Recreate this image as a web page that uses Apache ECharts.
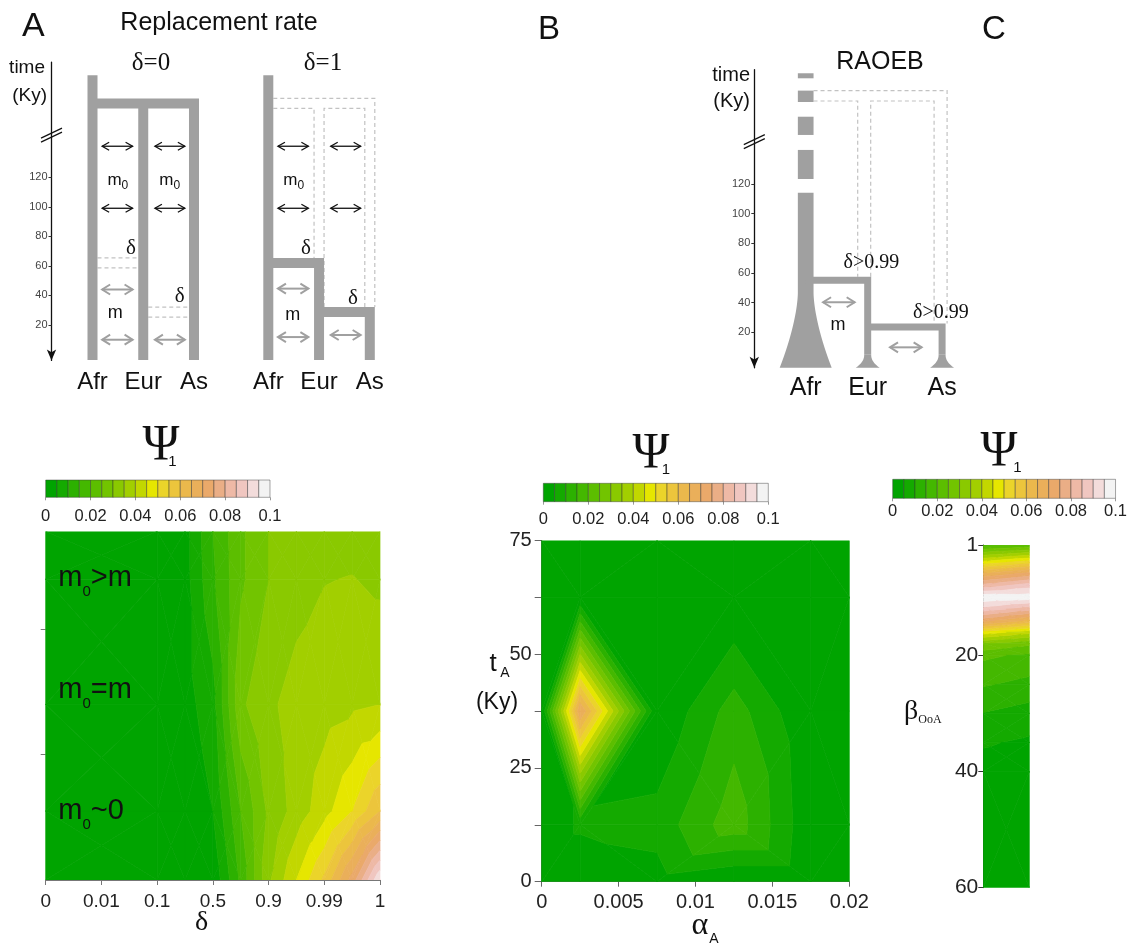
<!DOCTYPE html>
<html>
<head>
<meta charset="utf-8">
<title>Psi1 figure</title>
<script src="https://cdn.jsdelivr.net/npm/echarts@6.0.0/dist/echarts.min.js"></script>
<style>
html,body{margin:0;padding:0;background:#ffffff;}
#chart{width:1130px;height:944px;}
</style>
</head>
<body>
<div id="chart"></div>
<script>
// ================= DATA =================
// Psi1 colour scale (contour levels and colours)
const psiBreaks = [0, 0.005, 0.01, 0.015, 0.02, 0.025, 0.03, 0.035, 0.04, 0.045, 0.05,
                   0.055, 0.06, 0.065, 0.07, 0.075, 0.08, 0.085, 0.09, 0.095, 0.1];
const levelColors = ['#00a400', '#14aa00', '#2cb100', '#44b800', '#5cbe00', '#72c400', '#8ac900',
                     '#a2cf00', '#c2d700', '#e6e600', '#ebd42a', '#ecc53c', '#ebb84c', '#eaaf5a',
                     '#eaa96a', '#eaae86', '#eeb9a6', '#f0c6c0', '#f3dcdb', '#f3f3f3'];

// Schematic trees (time in Ky)
const popNames = ['Afr', 'Eur', 'As'];
const popPosA = [0, 1, 2];
const popPosC = [0, 1, 2.2];
const timeTicks = [20, 40, 60, 80, 100, 120];
const tAfrTopA = 189;
const tAncientA = 170;
const tEurSplitA = 62;
const tAsSplitA = 28.7;
const tBreak = 148.5;
const m0TimesA = [141, 99];
const mTimesA = [44, 10];
// RAOEB
const afrDashC = [[194.6, 191.2], [182.9, 175.2], [165.3, 153], [142.9, 123.3]];
const tAfrSolidC = 114;
const tEurSplitC = 55;
const tAsSplitC = 23.5;
const tGhostC = [182.9, 175.9];
const mTimesC = [40.2, 9.8];

// Panel A contour: delta index (x) x migration scenario (y)
const deltaLabels = ['0', '0.01', '0.1', '0.5', '0.9', '0.99', '1'];
const deltaNodes = [0, 2, 2.5, 3, 3.5, 4, 4.5, 5, 5.5, 6];
const migNodes = [0, 0.55, 1.4, 2.4, 2.78];
const psiA = [
  [0, 0, 0,     0.001, 0.016, 0.034, 0.045, 0.056,  0.072,  0.095],
  [0, 0, 0.001, 0.005, 0.020, 0.031, 0.037, 0.043,  0.050,  0.060],
  [0, 0, 0.003, 0.008, 0.029, 0.034, 0.037, 0.038,  0.039,  0.040],
  [0, 0, 0.003, 0.014, 0.024, 0.030, 0.033, 0.0348, 0.0352, 0.034],
  [0, 0, 0.003, 0.015, 0.024, 0.030, 0.032, 0.033,  0.033,  0.032]
];

// Panel B contour: alpha_A (x) x t_A (y)
const alphaNodes = [0, 0.0025, 0.0075, 0.0125, 0.0175, 0.02];
const tANodes = [0, 12.5, 37.5, 62.5, 75];
const psiB = [
  [0, 0,     0.003,  0,      0,     0],
  [0, 0.006, 0.0069, 0.018,  0.001, 0],
  [0, 0.07,  0,      0.0124, 0,     0],
  [0, 0,     0,      0,      0,     0],
  [0, 0,     0,      0,      0,     0]
];

// Panel C contour: beta_OoA (y), two edge columns
const betaNodes = [1, 4, 6, 8, 10, 12, 14, 16, 18, 20, 25, 30, 35, 40, 60];
const stripNodes = [0, 1];
const psiC = [
  [0.018, 0.021], [0.047, 0.053], [0.066, 0.072], [0.082, 0.088], [0.099, 0.098],
  [0.088, 0.082], [0.072, 0.064], [0.048, 0.042], [0.030, 0.026], [0.021, 0.019],
  [0.0155, 0.0135], [0.0098, 0.0078], [0.0055, 0.0042], [0.003, 0.0025], [0.002, 0.002]
];

// ================= HELPERS =================
const SANS = '"Liberation Sans", Arial, sans-serif';
const SERIF = '"Liberation Serif", "Times New Roman", serif';
const mctx = document.createElement('canvas').getContext('2d');
function textW(s, size, fam) { mctx.font = size + 'px ' + fam; return mctx.measureText(s).width; }
function T(x, y, s, size, fam, align, fill) {
  align = align || 'left';
  return { type: 'text', x: x, y: y, silent: true, z: 50,
    style: { text: s, fontSize: size, fontFamily: fam, fill: fill || '#111',
      align: align, textAlign: align, verticalAlign: 'middle', textVerticalAlign: 'middle' } };
}
function seq(x, y, parts, align) {
  const w = parts.map(p => textW(p[0], p[1], p[2]));
  const total = w.reduce((a, b) => a + b, 0);
  let cx = align === 'center' ? x - total / 2 : (align === 'right' ? x - total : x);
  return parts.map((p, k) => { const e = T(cx, y + (p[3] || 0), p[0], p[1], p[2]); cx += w[k]; return e; });
}
function dblArrow(xa, xb, y, color, lw, hl, hw) {
  return [
    { type: 'line', shape: { x1: xa, y1: y, x2: xb, y2: y }, style: { stroke: color, lineWidth: lw } },
    { type: 'polyline', shape: { points: [[xa + hl, y - hw], [xa, y], [xa + hl, y + hw]] }, style: { stroke: color, lineWidth: lw, fill: null } },
    { type: 'polyline', shape: { points: [[xb - hl, y - hw], [xb, y], [xb - hl, y + hw]] }, style: { stroke: color, lineWidth: lw, fill: null } }
  ];
}
const GRAY = '#a0a0a0';
const DASH = '#c2c2c2';
function thick(pts, w) { return { type: 'polyline', shape: { points: pts }, style: { stroke: GRAY, lineWidth: w, fill: null, lineJoin: 'miter', lineCap: 'butt' } }; }
function dash(pts) { return { type: 'polyline', shape: { points: pts }, style: { stroke: DASH, lineWidth: 1.2, fill: null, lineDash: [4, 3] } }; }
function breakMark(ax, y) {
  return [-2, 2].map(o => ({ type: 'line', shape: { x1: ax - 10.5, y1: y + o + 5, x2: ax + 10.5, y2: y + o - 5 }, style: { stroke: '#111', lineWidth: 1.2 } }));
}

const xMinA = -0.808, xMaxA = 2.345;
const xMinC = -0.829, xMaxC = 2.655;

function treeA(delta) {
  return function (params, api) {
    const c = (x, t) => api.coord([x, t]);
    const X = popPosA.map(p => c(p, 0)[0]);
    const yb = c(0, 0)[1] + 5.5;
    const yTop = c(0, tAfrTopA)[1], yAnc = c(0, tAncientA)[1];
    const yEur = c(0, tEurSplitA)[1], yAs = c(0, tAsSplitA)[1];
    const h = 5;
    const kids = [];
    if (delta === 0) {
      kids.push(dash([[X[0] + h, yEur - h], [X[1] - h, yEur - h]]), dash([[X[0] + h, yEur + h], [X[1] - h, yEur + h]]));
      kids.push(dash([[X[1] + h, yAs - h], [X[2] - h, yAs - h]]), dash([[X[1] + h, yAs + h], [X[2] - h, yAs + h]]));
      kids.push(thick([[X[0], yTop], [X[0], yb]], 10));
      kids.push(thick([[X[0], yAnc], [X[2], yAnc], [X[2], yb]], 10));
      kids.push(thick([[X[1], yAnc], [X[1], yb]], 10));
    } else {
      kids.push(dash([[X[0] + h, yAnc - h], [X[2] + h, yAnc - h], [X[2] + h, yAs - h]]));
      kids.push(dash([[X[0] + h, yAnc + h], [X[1] - h, yAnc + h], [X[1] - h, yEur - h]]));
      kids.push(dash([[X[1] + h, yAs - h], [X[1] + h, yAnc + h], [X[2] - h, yAnc + h], [X[2] - h, yAs - h]]));
      kids.push(thick([[X[0], yTop], [X[0], yb]], 10));
      kids.push(thick([[X[0], yEur], [X[1], yEur], [X[1], yb]], 10));
      kids.push(thick([[X[1], yAs], [X[2], yAs], [X[2], yb]], 10));
    }
    m0TimesA.forEach(t => {
      const y = c(0, t)[1];
      kids.push(...dblArrow(c(0.19, t)[0], c(0.79, t)[0], y, '#111', 1.3, 7, 4));
      kids.push(...dblArrow(c(1.23, t)[0], c(1.82, t)[0], y, '#111', 1.3, 7, 4));
    });
    kids.push(...dblArrow(c(0.19, mTimesA[0])[0], c(0.79, mTimesA[0])[0], c(0, mTimesA[0] + (delta ? 0.6 : 0))[1], GRAY, 2, 8, 5));
    kids.push(...dblArrow(c(0.19, mTimesA[1])[0], c(0.79, mTimesA[1])[0], c(0, mTimesA[1] + (delta ? 1.8 : 0))[1], GRAY, 2, 8, 5));
    kids.push(...dblArrow(c(1.23, mTimesA[1])[0], c(1.82, mTimesA[1])[0], c(0, mTimesA[1] + (delta ? 3.2 : 0))[1], GRAY, 2, 8, 5));
    const m0a = c(0.5, 118);
    kids.push(...seq(m0a[0], m0a[1], [['m', 17, SANS], ['0', 12, SANS, 5]], 'center'));
    if (delta === 0) {
      const m0b = c(1.52, 118);
      kids.push(...seq(m0b[0], m0b[1], [['m', 17, SANS], ['0', 12, SANS, 5]], 'center'));
    }
    const mp = c(delta ? 0.48 : 0.45, delta ? 26.7 : 28);
    kids.push(T(mp[0], mp[1], 'm', 18, SANS, 'center'));
    const d1 = c(delta ? 0.74 : 0.76, 72), d2 = c(delta ? 1.67 : 1.72, delta ? 38 : 39);
    kids.push(T(d1[0], d1[1], 'δ', 21, SERIF, 'center'), T(d2[0], d2[1], 'δ', 21, SERIF, 'center'));
    if (delta === 0) kids.push(...breakMark(c(xMinA, 0)[0], c(0, tBreak)[1]));
    return { type: 'group', children: kids };
  };
}

function flare(xc, yStart, yBase, hw0, hw1, p, n) {
  const left = [], right = [];
  for (let k = 0; k <= n; k++) {
    const s = k / n;
    const y = yStart + (yBase - yStart) * s;
    const hw = hw0 + (hw1 - hw0) * Math.pow(s, p);
    left.push([xc - hw, y]);
    right.push([xc + hw, y]);
  }
  return left.concat(right.reverse());
}

function treeC(params, api) {
  const c = (x, t) => api.coord([x, t]);
  const X = popPosC.map(p => c(p, 0)[0]);
  const yb = c(0, -4)[1];
  const yEur = c(0, tEurSplitC)[1], yAs = c(0, tAsSplitC)[1];
  const kids = [];
  const yG1 = c(0, tGhostC[0])[1], yG2 = c(0, tGhostC[1])[1];
  const ha = 7.85, hb = 3.5;
  kids.push(dash([[X[0] + ha, yG1], [X[2] + 5, yG1], [X[2] + 5, yAs - hb]]));
  kids.push(dash([[X[0] + ha, yG2], [X[1] - 10, yG2], [X[1] - 10, yEur - hb]]));
  kids.push(dash([[X[1] + 3, yEur - hb], [X[1] + 3, yG2], [X[2] - 8, yG2], [X[2] - 8, yAs - hb]]));
  afrDashC.forEach(s => {
    const y0 = c(0, s[0])[1], y1 = c(0, s[1])[1];
    kids.push({ type: 'rect', shape: { x: X[0] - ha, y: y0, width: 2 * ha, height: y1 - y0 }, style: { fill: GRAY } });
  });
  const yS = c(0, tAfrSolidC)[1], yF = c(0, 46.5)[1];
  kids.push({ type: 'polygon', shape: { points: [[X[0] - ha, yS]].concat(flare(X[0], yF, yb, ha, 26, 1.6, 30)).concat([[X[0] + ha, yS]]) }, style: { fill: GRAY } });
  const yFe = yb - 13;
  kids.push(thick([[X[0], yEur], [X[1], yEur], [X[1], yFe]], 7));
  kids.push(thick([[X[1], yAs], [X[2], yAs], [X[2], yFe]], 7));
  kids.push({ type: 'polygon', shape: { points: flare(X[1], yFe, yb, hb, 12, 2.2, 16) }, style: { fill: GRAY } });
  kids.push({ type: 'polygon', shape: { points: flare(X[2], yFe, yb, hb, 12, 2.2, 16) }, style: { fill: GRAY } });
  kids.push(...dblArrow(c(0.28, mTimesC[0])[0], c(0.79, mTimesC[0])[0], c(0, mTimesC[0])[1], GRAY, 2, 8, 5));
  kids.push(...dblArrow(c(1.36, mTimesC[1])[0], c(1.87, mTimesC[1])[0], c(0, mTimesC[1])[1], GRAY, 2, 8, 5));
  const mp = c(0.52, 24.9);
  kids.push(T(mp[0], mp[1], 'm', 18, SANS, 'center'));
  const d1 = c(1.06, 66.7), d2 = c(2.18, 32.8);
  kids.push(T(d1[0], d1[1], 'δ>0.99', 20, SERIF, 'center'), T(d2[0], d2[1], 'δ>0.99', 20, SERIF, 'center'));
  kids.push(...breakMark(c(xMinC, 0)[0], c(0, tBreak)[1]));
  return { type: 'group', children: kids };
}

function clipPoly(poly, level, keepAbove) {
  const out = [];
  const n = poly.length;
  for (let k = 0; k < n; k++) {
    const a = poly[k], b = poly[(k + 1) % n];
    const ina = keepAbove ? a[2] >= level : a[2] <= level;
    const inb = keepAbove ? b[2] >= level : b[2] <= level;
    if (ina) out.push(a);
    if (ina !== inb) {
      const t = (level - a[2]) / (b[2] - a[2]);
      out.push([a[0] + t * (b[0] - a[0]), a[1] + t * (b[1] - a[1]), level]);
    }
  }
  return out;
}

// mode 'center': each cell split into 4 triangles around its centre;
// mode 'alt': each cell split by one diagonal, alternating (diamond lattice)
function contourSeries(idx, xs, ys, vals, mode) {
  const data = [];
  for (let j = 0; j < ys.length - 1; j++)
    for (let i = 0; i < xs.length - 1; i++) data.push([xs[i], ys[j], i, j]);
  return {
    type: 'custom', coordinateSystem: 'cartesian2d', xAxisIndex: idx, yAxisIndex: idx,
    clip: true, silent: true, data: data, encode: { x: 0, y: 1 },
    renderItem: function (params, api) {
      const i = api.value(2), j = api.value(3);
      const corner = (ii, jj) => { const p = api.coord([xs[ii], ys[jj]]); return [p[0], p[1], vals[jj][ii]]; };
      const q = [corner(i, j), corner(i + 1, j), corner(i + 1, j + 1), corner(i, j + 1)];
      let tris;
      if (mode === 'alt') {
        tris = ((i + j) % 2 === 0) ? [[q[0], q[1], q[2]], [q[0], q[2], q[3]]] : [[q[0], q[1], q[3]], [q[1], q[2], q[3]]];
      } else {
        const m = [(q[0][0] + q[2][0]) / 2, (q[0][1] + q[2][1]) / 2, (q[0][2] + q[1][2] + q[2][2] + q[3][2]) / 4];
        tris = [0, 1, 2, 3].map(k => [q[k], q[(k + 1) % 4], m]);
      }
      const children = [];
      const nb = levelColors.length;
      tris.forEach(tri => {
        for (let b = 0; b < nb; b++) {
          let poly = tri;
          if (b > 0) poly = clipPoly(poly, psiBreaks[b], true);
          if (poly.length < 3) continue;
          if (b < nb - 1) poly = clipPoly(poly, psiBreaks[b + 1], false);
          if (poly.length < 3) continue;
          children.push({ type: 'polygon', shape: { points: poly.map(p => [p[0], p[1]]) },
            style: { fill: levelColors[b], stroke: levelColors[b], lineWidth: 0.7 } });
        }
      });
      return { type: 'group', children: children };
    }
  };
}

function colorbarSeries(idx) {
  return {
    type: 'custom', coordinateSystem: 'cartesian2d', xAxisIndex: idx, yAxisIndex: idx, silent: true,
    data: levelColors.map((col, k) => [psiBreaks[k], psiBreaks[k + 1], k]),
    encode: { x: [0, 1] },
    renderItem: function (params, api) {
      const p0 = api.coord([api.value(0), 0]), p1 = api.coord([api.value(1), 1]);
      return { type: 'rect', shape: { x: p0[0], y: p1[1], width: p1[0] - p0[0], height: p0[1] - p1[1] },
        style: { fill: levelColors[api.value(2)], stroke: 'rgba(50,50,50,0.55)', lineWidth: 0.8 } };
    }
  };
}

// ================= OPTION =================
function treeX(gi, min, max, pos, fs, margin) {
  return { gridIndex: gi, type: 'value', min: min, max: max,
    axisLine: { show: false, onZero: false }, axisTick: { show: false }, splitLine: { show: false },
    axisLabel: { customValues: pos, fontSize: fs, fontFamily: SANS, color: '#111', margin: margin,
      formatter: v => popNames[pos.findIndex(p => Math.abs(p - v) < 1e-6)] } };
}
function timeY(gi, min, max, show) {
  return { gridIndex: gi, type: 'value', min: min, max: max, show: show, position: 'left',
    axisLine: { show: true, onZero: false, symbol: ['arrow', 'none'], symbolSize: [7, 11], lineStyle: { color: '#111', width: 1.3 } },
    axisTick: { show: true, customValues: timeTicks, length: 3, lineStyle: { color: '#333' } },
    axisLabel: { show: true, customValues: timeTicks, fontSize: 11, fontFamily: SANS, color: '#444', margin: 4 },
    splitLine: { show: false } };
}
function cbX(gi, margin) {
  return { gridIndex: gi, type: 'value', min: 0, max: 0.1, interval: 0.02,
    axisLine: { show: false, onZero: false }, axisTick: { show: true, length: 3, lineStyle: { color: '#999' } },
    axisLabel: { fontSize: 16.5, fontFamily: SANS, color: '#222', margin: margin }, splitLine: { show: false } };
}
function cbY(gi) { return { gridIndex: gi, type: 'value', min: 0, max: 1, show: false }; }

const graphicEls = [
  T(22, 27, 'A', 34, SANS), T(538, 30, 'B', 33, SANS), T(982, 30, 'C', 33, SANS),
  T(219, 23, 'Replacement rate', 25, SANS, 'center'),
  T(151, 63, 'δ=0', 25, SERIF, 'center'), T(323, 63, 'δ=1', 25, SERIF, 'center'),
  T(45, 68, 'time', 19, SANS, 'right'), T(47, 96, '(Ky)', 19, SANS, 'right'),
  T(750, 75, 'time', 20, SANS, 'right'), T(750, 101.5, '(Ky)', 20, SANS, 'right'),
  T(880, 62, 'RAOEB', 25, SANS, 'center'),
  T(161, 446, 'Ψ', 50, SERIF, 'center'), T(172.5, 462, '1', 15, SANS, 'center'),
  T(651, 454, 'Ψ', 50, SERIF, 'center'), T(666, 470, '1', 15, SANS, 'center'),
  T(999, 452, 'Ψ', 50, SERIF, 'center'), T(1017.5, 468, '1', 15, SANS, 'center'),
  ...seq(58.3, 578, [['m', 29, SANS], ['0', 15, SANS, 14], ['>m', 29, SANS]], 'left'),
  ...seq(58.3, 690, [['m', 29, SANS], ['0', 15, SANS, 14], ['=m', 29, SANS]], 'left'),
  ...seq(58.3, 811, [['m', 29, SANS], ['0', 15, SANS, 14], ['~0', 29, SANS]], 'left'),
  T(201.7, 923, 'δ', 28, SERIF, 'center'),
  T(700, 926, 'α', 32, SERIF, 'center'), T(714, 939, 'A', 14, SANS, 'center'),
  T(493, 664, 't', 26, SANS, 'center'), T(505, 673, 'A', 14, SANS, 'center'),
  T(497, 703, '(Ky)', 23, SANS, 'center'),
  ...seq(904, 712, [['β', 28, SERIF], ['OoA', 12, SERIF, 8]], 'left')
];

const option = {
  animation: false,
  backgroundColor: '#ffffff',
  textStyle: { fontFamily: SANS },
  grid: [
    { left: 51.5, top: 62.05, width: 160, height: 298.35 },
    { left: 227.3, top: 62.05, width: 160, height: 298.35 },
    { left: 754.3, top: 69.7, width: 216, height: 298.1 },
    { left: 45.7, top: 531.5, width: 334.3, height: 348.5 },
    { left: 541.7, top: 540.5, width: 307.6, height: 341.2 },
    { left: 983.3, top: 545, width: 46, height: 342.7 },
    { left: 45.7, top: 480, width: 224.3, height: 17.3 },
    { left: 543.3, top: 483.3, width: 225, height: 18.4 },
    { left: 892.7, top: 479.3, width: 224.6, height: 19 }
  ],
  xAxis: [
    treeX(0, xMinA, xMaxA, popPosA, 24, 10),
    treeX(1, xMinA, xMaxA, popPosA, 24, 10),
    treeX(2, xMinC, xMaxC, popPosC, 25, 8),
    { gridIndex: 3, type: 'value', min: 0, max: 6, interval: 1,
      axisLine: { show: true, onZero: false, lineStyle: { color: '#777' } },
      axisTick: { show: true, length: 5, lineStyle: { color: '#777' } },
      axisLabel: { fontSize: 19, color: '#222', margin: 12, formatter: v => deltaLabels[Math.round(v)] },
      splitLine: { show: false } },
    { gridIndex: 4, type: 'value', min: 0, max: 0.02, interval: 0.005,
      axisLine: { show: true, onZero: false, lineStyle: { color: '#666' } },
      axisTick: { show: true, length: 5, lineStyle: { color: '#666' } },
      axisLabel: { fontSize: 20, color: '#222', margin: 11 }, splitLine: { show: false } },
    { gridIndex: 5, type: 'value', min: 0, max: 1, show: false },
    cbX(6, 11), cbX(7, 9), cbX(8, 5)
  ],
  yAxis: [
    timeY(0, -4, 198, true),
    timeY(1, -4, 198, false),
    timeY(2, -4, 197, true),
    { gridIndex: 3, type: 'value', min: 0, max: 2.78,
      axisLine: { show: false, onZero: false },
      axisTick: { show: true, customValues: [1, 2], length: 5, lineStyle: { color: '#777' } },
      axisLabel: { show: false }, splitLine: { show: false } },
    { gridIndex: 4, type: 'value', min: 0, max: 75,
      axisLine: { show: true, onZero: false, lineStyle: { color: '#666' } },
      axisTick: { show: true, customValues: [0, 12.5, 25, 37.5, 50, 62.5, 75], length: 7, lineStyle: { color: '#666' } },
      axisLabel: { customValues: [0, 25, 50, 75], fontSize: 20, color: '#222', margin: 10 },
      splitLine: { show: false } },
    { gridIndex: 5, type: 'value', min: 1, max: 60, inverse: true,
      axisLine: { show: true, onZero: false, lineStyle: { color: '#333' } },
      axisTick: { show: true, customValues: [1, 20, 40, 60], length: 5, lineStyle: { color: '#333' } },
      axisLabel: { customValues: [1, 20, 40, 60], fontSize: 21, color: '#222', margin: 5 },
      splitLine: { show: false } },
    cbY(6), cbY(7), cbY(8)
  ],
  series: [
    { type: 'custom', coordinateSystem: 'cartesian2d', xAxisIndex: 0, yAxisIndex: 0, silent: true, data: [[0, 0]], encode: { x: 0, y: 1 }, renderItem: treeA(0) },
    { type: 'custom', coordinateSystem: 'cartesian2d', xAxisIndex: 1, yAxisIndex: 1, silent: true, data: [[0, 0]], encode: { x: 0, y: 1 }, renderItem: treeA(1) },
    { type: 'custom', coordinateSystem: 'cartesian2d', xAxisIndex: 2, yAxisIndex: 2, silent: true, data: [[0, 0]], encode: { x: 0, y: 1 }, renderItem: treeC },
    contourSeries(3, deltaNodes, migNodes, psiA, 'center'),
    contourSeries(4, alphaNodes, tANodes, psiB, 'alt'),
    contourSeries(5, stripNodes, betaNodes, psiC, 'center'),
    colorbarSeries(6), colorbarSeries(7), colorbarSeries(8)
  ],
  graphic: { elements: graphicEls }
};

const chart = echarts.init(document.getElementById('chart'), null, { renderer: 'canvas' });
chart.setOption(option);
</script>
</body>
</html>
